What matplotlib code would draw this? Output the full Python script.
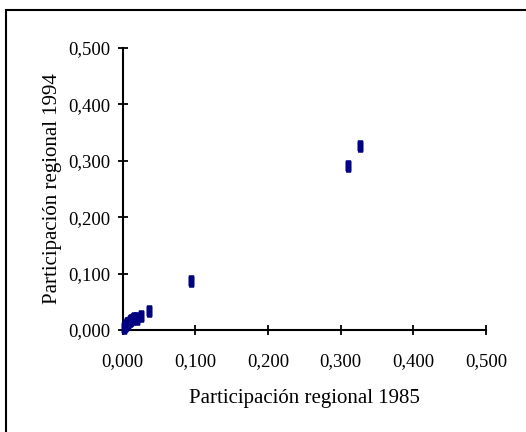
import matplotlib
matplotlib.use("Agg")
import matplotlib.pyplot as plt
from matplotlib.patches import Rectangle

# participación regional (1985 vs 1994)
part_1985 = [0.002, 0.003, 0.005, 0.006, 0.008, 0.010, 0.012, 0.014, 0.016,
             0.018, 0.020, 0.025, 0.036, 0.094, 0.310, 0.327]
part_1994 = [0.004, 0.007, 0.009, 0.012, 0.013, 0.016, 0.018, 0.020, 0.021,
             0.022, 0.020, 0.024, 0.034, 0.087, 0.291, 0.327]

ticks = [0.0, 0.1, 0.2, 0.3, 0.4, 0.5]
tick_labels = ["0,000", "0,100", "0,200", "0,300", "0,400", "0,500"]

plt.rcParams['font.family'] = ['Liberation Serif', 'DejaVu Serif']

fig = plt.figure(figsize=(5.26, 4.32), dpi=100)
ax = fig.add_axes([0.2329, 0.2361, 0.924 - 0.2329, 0.8889 - 0.2361])

# vertical rounded marker like the original
marker_shape = [(-0.4, -1), (0.4, -1), (0.45, -0.8), (0.45, 0.8), (0.4, 1),
                (-0.4, 1), (-0.45, 0.8), (-0.45, -0.8)]
ax.scatter(part_1985, part_1994, marker=marker_shape, s=70, color='#000080',
           edgecolors='#000080', linewidths=0.5, zorder=3, clip_on=False)

ax.set_xlim(0, 0.5)
ax.set_ylim(0, 0.5)
ax.set_xticks(ticks)
ax.set_xticklabels(tick_labels)
ax.set_yticks(ticks)
ax.set_yticklabels(tick_labels)

for s in ['top', 'right']:
    ax.spines[s].set_visible(False)
for s in ['left', 'bottom']:
    ax.spines[s].set_linewidth(1.5)

ax.tick_params(axis='x', direction='inout', length=7, width=1.3, labelsize=13.5, pad=13)
ax.tick_params(axis='y', direction='inout', length=7, width=1.3, labelsize=13.5, pad=5)

ax.set_xlabel('Participación regional 1985', fontsize=15, labelpad=14)
ax.set_ylabel('Participación regional 1994', fontsize=15, labelpad=5)

# outer frame (only top and left fall inside the image)
fig.patches.append(Rectangle((6 / 526, -0.1), 1.2, (432 - 10) / 432 + 0.1,
                             transform=fig.transFigure, fill=False,
                             edgecolor='black', linewidth=1.5))

fig.savefig('out.png', dpi=100)
